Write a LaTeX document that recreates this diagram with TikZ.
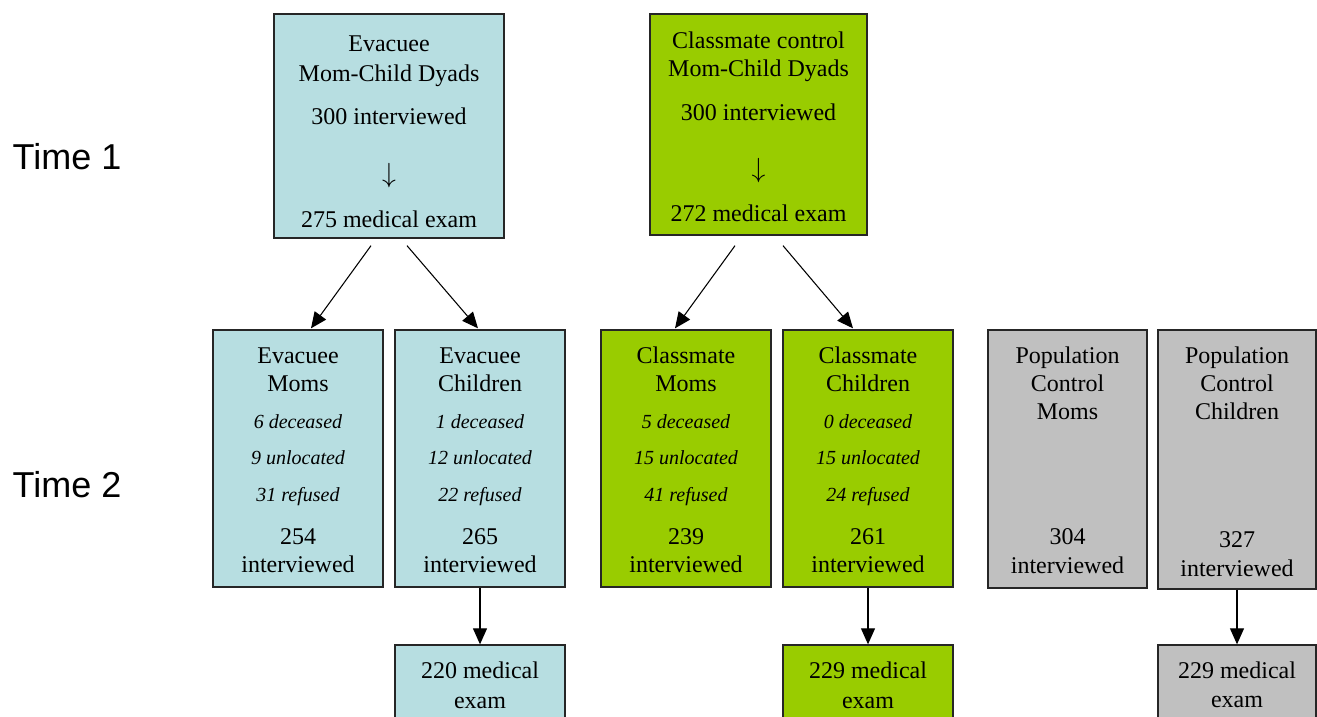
\documentclass[tikz,border=0pt]{standalone}
\usepackage{fontspec}
\setmainfont{Liberation Serif}
\newfontfamily\timefont{Liberation Sans}
\usetikzlibrary{arrows.meta,fit,calc}
\definecolor{evblue}{HTML}{B7DEE1}
\definecolor{clgreen}{HTML}{99CC00}
\definecolor{pgray}{HTML}{C0C0C0}
\begin{document}
\begin{tikzpicture}[x=0.75pt,y=-0.75pt,
  box/.style={draw=black!85, line width=1pt, inner sep=0pt},
  t/.style={font=\fontsize{18}{21}\selectfont, inner sep=0pt, text height=14pt, text depth=2.5pt},
  it/.style={font=\fontsize{15}{18}\selectfont\itshape, inner sep=0pt, text height=11pt, text depth=2.5pt},
  darr/.style={font=\fontsize{21}{24}\selectfont, inner sep=0pt},
  timelbl/.style={font=\timefont\fontsize{27}{32}\selectfont, inner sep=0pt},
  arr/.style={-{Triangle[width=10.5pt,length=12pt]}, line width=0.8pt}]
\useasboundingbox (0,0) rectangle (1317,717);

% Time labels
\node[timelbl] (t1) at (67,157) {Time 1};
\node[timelbl] (t2) at (67,485) {Time 2};

% Top boxes
\node[box, fill=evblue, fit={(274,14) (504,238)}] (ev) {};
\node[t] (ev1) at (389,44.3) {Evacuee};
\node[t] (ev2) at (389,74.3) {Mom-Child Dyads};
\node[t] (ev3) at (389,117.3) {300 interviewed};
\node[darr] (ev4) at (389,176) {$\downarrow$};
\node[t] (ev5) at (389,220.3) {275 medical exam};

\node[box, fill=clgreen, fit={(650,14) (867,235)}] (cl) {};
\node[t] (cl1) at (758.5,41) {Classmate control};
\node[t] (cl2) at (758.5,69.3) {Mom-Child Dyads};
\node[t] (cl3) at (758.5,112.6) {300 interviewed};
\node[darr] (cl4) at (758.5,171) {$\downarrow$};
\node[t] (cl5) at (758.5,214.3) {272 medical exam};

% Middle row
\node[box, fill=evblue, fit={(213,330) (383,587)}] (em) {};
\node[t] at (298,356) {Evacuee};
\node[t] at (298,384.3) {Moms};
\node[it] at (298,423.3) {6 deceased};
\node[it] at (298,459.3) {9 unlocated};
\node[it] at (298,496) {31 refused};
\node[t] at (298,537) {254};
\node[t] at (298,565) {interviewed};

\node[box, fill=evblue, fit={(395,330) (565,587)}] (ec) {};
\node[t] at (480,356) {Evacuee};
\node[t] at (480,384.3) {Children};
\node[it] at (480,423.3) {1 deceased};
\node[it] at (480,459.3) {12 unlocated};
\node[it] at (480,496) {22 refused};
\node[t] at (480,537) {265};
\node[t] at (480,565) {interviewed};

\node[box, fill=clgreen, fit={(601,330) (771,587)}] (cm) {};
\node[t] at (686,356) {Classmate};
\node[t] at (686,384.3) {Moms};
\node[it] at (686,423.3) {5 deceased};
\node[it] at (686,459.3) {15 unlocated};
\node[it] at (686,496) {41 refused};
\node[t] at (686,537) {239};
\node[t] at (686,565) {interviewed};

\node[box, fill=clgreen, fit={(783,330) (953,587)}] (cc) {};
\node[t] at (868,356) {Classmate};
\node[t] at (868,384.3) {Children};
\node[it] at (868,423.3) {0 deceased};
\node[it] at (868,459.3) {15 unlocated};
\node[it] at (868,496) {24 refused};
\node[t] at (868,537) {261};
\node[t] at (868,565) {interviewed};

\node[box, fill=pgray, fit={(988,330) (1147,588)}] (pm) {};
\node[t] at (1067.5,356) {Population};
\node[t] at (1067.5,384.3) {Control};
\node[t] at (1067.5,412.3) {Moms};
\node[t] at (1067.5,537.3) {304};
\node[t] at (1067.5,566.3) {interviewed};

\node[box, fill=pgray, fit={(1158,330) (1316,589)}] (pc) {};
\node[t] at (1237,356) {Population};
\node[t] at (1237,384.3) {Control};
\node[t] at (1237,412.3) {Children};
\node[t] at (1237,540) {327};
\node[t] at (1237,569.3) {interviewed};

% Bottom row
\node[box, fill=evblue, fit={(395,645) (565,740)}] (eb) {};
\node[t] at (480,671) {220 medical};
\node[t] at (480,700.5) {exam};

\node[box, fill=clgreen, fit={(783,645) (953,740)}] (cb) {};
\node[t] at (868,671) {229 medical};
\node[t] at (868,700.5) {exam};

\node[box, fill=pgray, fit={(1158,645) (1316,740)}] (pb) {};
\node[t] at (1237,671) {229 medical};
\node[t] at (1237,700) {exam};

% Connectors
\draw[arr] ($(ev.south)+(-18,7)$) -- ($(em.north)+(13,-1)$);
\draw[arr] ($(ev.south)+(18,7)$) -- ($(ec.north)+(-2,-1)$);
\draw[arr] ($(cl.south)+(-23.5,10)$) -- ($(cm.north)+(-11,-1)$);
\draw[arr] ($(cl.south)+(24.5,10)$) -- ($(cc.north)+(-15,-1)$);
\draw[arr] (ec.south) -- (eb.north);
\draw[arr] (cc.south) -- (cb.north);
\draw[arr] (pc.south) -- (pb.north);
\end{tikzpicture}
\end{document}
